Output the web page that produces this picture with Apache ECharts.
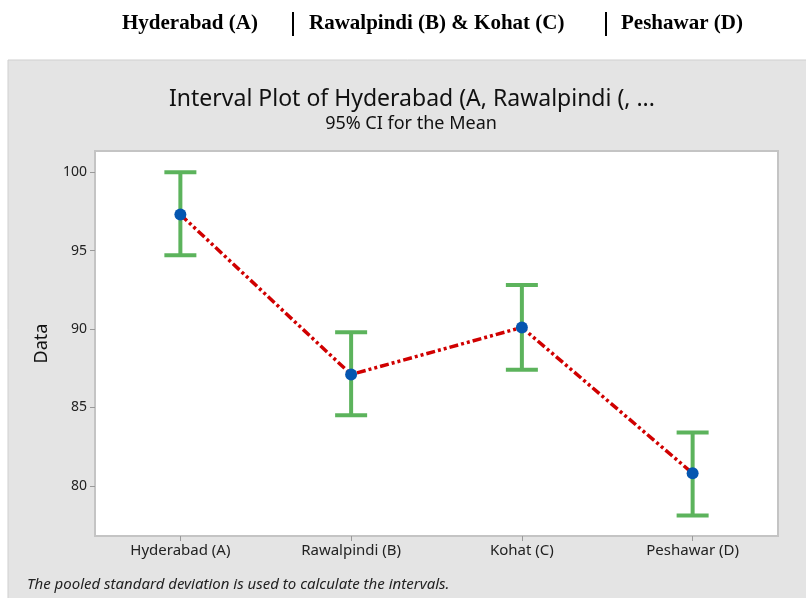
<!DOCTYPE html>
<html>
<head>
<meta charset="utf-8">
<script src="https://cdn.jsdelivr.net/npm/echarts@6/dist/echarts.min.js"></script>
<style>
  html, body { margin: 0; padding: 0; background: #fff; }
  #chart { width: 806px; height: 598px; }
</style>
</head>
<body>
<div id="chart"></div>
<script>
// data
const categories = ['Hyderabad (A)', 'Rawalpindi (B)', 'Kohat (C)', 'Peshawar (D)'];
const means = [97.3, 87.1, 90.1, 80.8];
const lower = [94.7, 84.5, 87.4, 78.1];
const upper = [100.0, 89.8, 92.8, 83.4];
const yTicks = [80, 85, 90, 95, 100];

const uiFont = 'Noto Sans';
const headFont = 'bold 21px "Liberation Serif"';
const green = '#5cb35c';

let myChart = echarts.init(document.getElementById('chart'));

myChart.setOption({
  backgroundColor: '#fff',
  animation: false,
  graphic: [
    // grey panel behind the chart
    {
      type: 'rect', z: -10, silent: true,
      shape: { x: 8, y: 60, width: 806, height: 560 },
      style: { fill: '#e4e4e4', stroke: '#cfcfcf', lineWidth: 1 }
    },
    // header row above the panel
    { type: 'text', x: 122, y: 24, style: { text: 'Hyderabad (A)', font: headFont, fill: '#000', verticalAlign: 'middle' } },
    { type: 'line', shape: { x1: 293, y1: 12, x2: 293, y2: 36 }, style: { stroke: '#000', lineWidth: 2 } },
    { type: 'text', x: 309, y: 24, style: { text: 'Rawalpindi (B) & Kohat (C)', font: headFont, fill: '#000', verticalAlign: 'middle' } },
    { type: 'line', shape: { x1: 606, y1: 12, x2: 606, y2: 36 }, style: { stroke: '#000', lineWidth: 2 } },
    { type: 'text', x: 621, y: 24, style: { text: 'Peshawar (D)', font: headFont, fill: '#000', verticalAlign: 'middle' } },
    // titles
    {
      type: 'text', x: 412, y: 99,
      style: { text: 'Interval Plot of Hyderabad (A, Rawalpindi (, ...', font: '23px "Noto Sans"', fill: '#111', align: 'center', verticalAlign: 'middle' }
    },
    {
      type: 'text', x: 411, y: 124,
      style: { text: '95% CI for the Mean', font: '18px "Noto Sans"', fill: '#111', align: 'center', verticalAlign: 'middle' }
    },
    // footnote
    {
      type: 'text', x: 27, y: 585,
      style: { text: 'The pooled standard deviation is used to calculate the intervals.', font: 'italic 15px "Noto Sans"', fill: '#222', verticalAlign: 'middle' }
    }
  ],
  grid: {
    left: 95, top: 151, right: 28, bottom: 62,
    show: true,
    backgroundColor: '#fff',
    borderColor: '#c4c4c4',
    borderWidth: 2
  },
  xAxis: {
    type: 'category',
    data: categories,
    axisLine: { show: false },
    axisTick: { show: true, alignWithLabel: true, length: 5, lineStyle: { color: '#999' } },
    axisLabel: { fontFamily: uiFont, fontSize: 15, color: '#222', margin: 7 }
  },
  yAxis: {
    type: 'value',
    min: 76.8,
    max: 101.35,
    name: 'Data',
    nameLocation: 'middle',
    nameGap: 44,
    nameTextStyle: { fontFamily: uiFont, fontSize: 18, color: '#111' },
    splitLine: { show: false },
    axisLine: { show: false },
    axisTick: { show: true, length: 5, customValues: yTicks, lineStyle: { color: '#999' } },
    axisLabel: { fontFamily: uiFont, fontSize: 14, color: '#222', margin: 8, customValues: yTicks }
  },
  series: [
    {
      name: 'CI',
      type: 'custom',
      z: 2,
      data: categories.map((c, i) => [i, lower[i], upper[i]]),
      renderItem: function (params, api) {
        const x = api.value(0);
        const lo = api.coord([x, api.value(1)]);
        const hi = api.coord([x, api.value(2)]);
        const hw = 16;
        const style = { stroke: green, lineWidth: 4 };
        return {
          type: 'group',
          children: [
            { type: 'line', shape: { x1: lo[0], y1: lo[1], x2: hi[0], y2: hi[1] }, style: style },
            { type: 'line', shape: { x1: hi[0] - hw, y1: hi[1], x2: hi[0] + hw, y2: hi[1] }, style: style },
            { type: 'line', shape: { x1: lo[0] - hw, y1: lo[1], x2: lo[0] + hw, y2: lo[1] }, style: style }
          ]
        };
      }
    },
    {
      name: 'Mean',
      type: 'line',
      z: 3,
      data: means,
      symbol: 'circle',
      symbolSize: 12,
      itemStyle: { color: '#0556b0' },
      lineStyle: { color: '#d00000', width: 3.5, type: [9, 3, 3, 3, 3, 3] }
    }
  ]
});
</script>
</body>
</html>
